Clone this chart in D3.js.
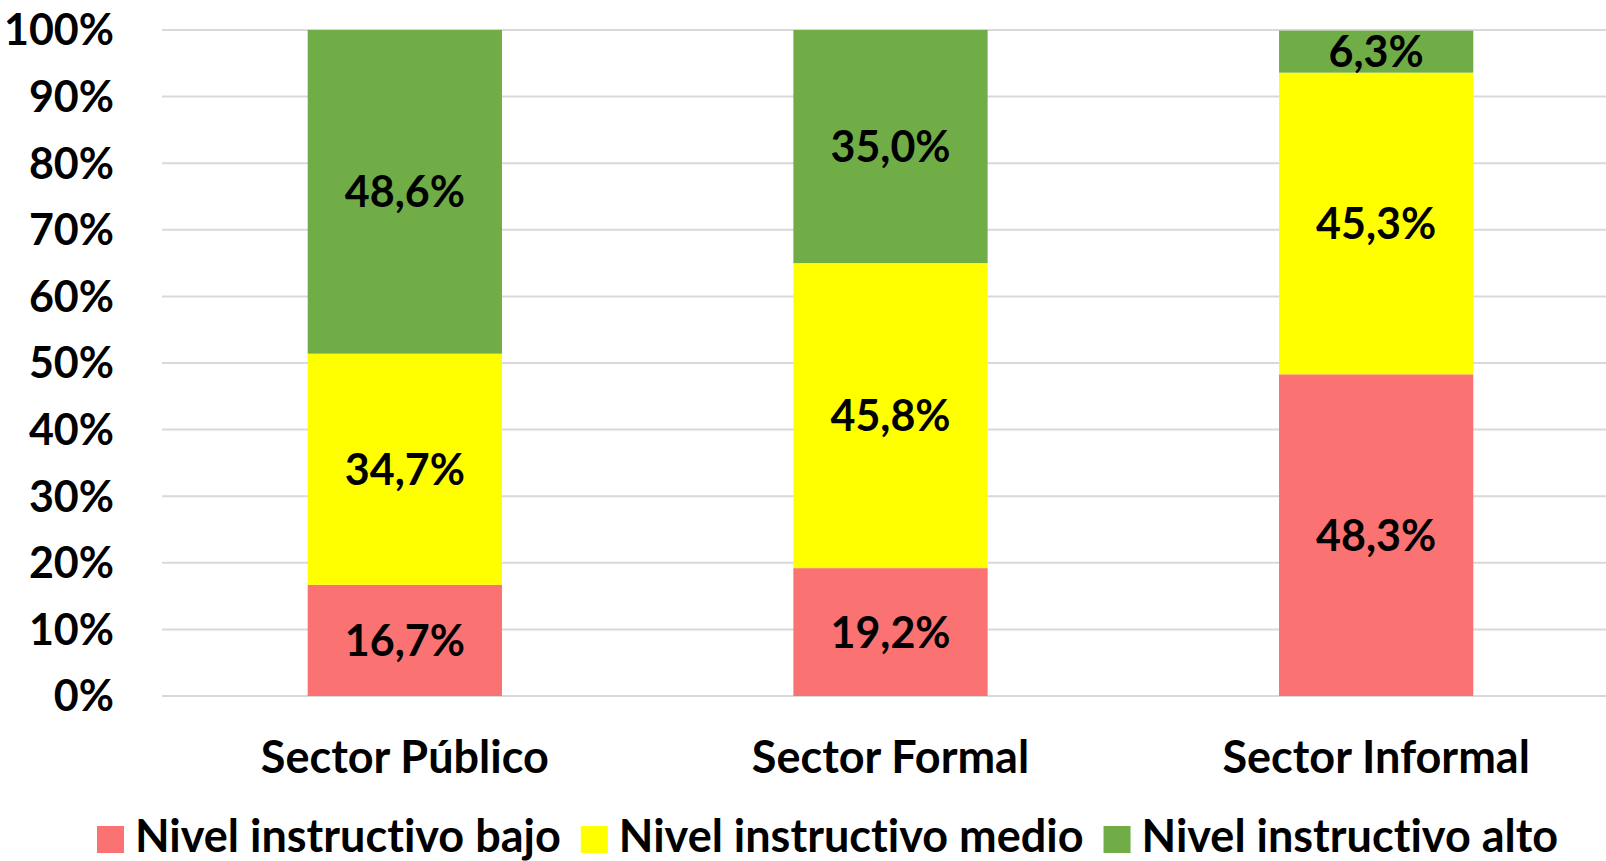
<!DOCTYPE html>
<html><head><meta charset="utf-8">
<script src="https://cdn.jsdelivr.net/npm/d3@7"></script>
<style>
html,body{margin:0;padding:0;background:#fff;overflow:hidden}
svg text{font-family:Lato,"Open Sans",sans-serif;font-weight:bold;fill:#000;font-variant-ligatures:none;font-feature-settings:"liga" 0}
</style></head>
<body><svg id="c" width="1606" height="861"></svg>
<script>
const categories = ["Sector Público", "Sector Formal", "Sector Informal"];
const seriesNames = ["Nivel instructivo bajo", "Nivel instructivo medio", "Nivel instructivo alto"];
const bajo  = [16.7, 19.2, 48.3];
const medio = [34.7, 45.8, 45.3];
const alto  = [48.6, 35.0, 6.3];
const yTicks = [0,10,20,30,40,50,60,70,80,90,100];
const colors = ["#FA7272", "#FFFF00", "#70AD47"];

(function(){
const svg = d3.select("#c");
const FS = 43, FSC = 45, FSL = 45;
const pL = 162, pR = 1619, pT = 30, pB = 696;

const x = d3.scaleBand().domain(categories).range([pL, pR]).paddingInner(0.6).paddingOuter(0.3);
const y = d3.scaleLinear().domain([0, 100]).range([pB, pT]);

svg.append("g").selectAll("line").data(yTicks).join("line")
  .attr("x1", pL).attr("x2", 1606)
  .attr("y1", d => y(d)).attr("y2", d => y(d))
  .attr("stroke", "#D9D9D9").attr("stroke-width", 2);

svg.append("g").selectAll("text").data(yTicks).join("text")
  .attr("x", 114).attr("y", d => y(d) + FS*0.36)
  .attr("text-anchor", "end").attr("font-size", FS)
  .text(d => d + "%");

const table = categories.map((c, i) => ({cat: c, s0: bajo[i], s1: medio[i], s2: alto[i]}));
const stack = d3.stack().keys(["s0","s1","s2"])(table);
const fmt = v => v.toFixed(1).replace(".", ",") + "%";

stack.forEach((layer, k) => {
  const g = svg.append("g");
  g.selectAll("rect").data(layer).join("rect")
    .attr("x", d => x(d.data.cat)).attr("width", x.bandwidth())
    .attr("y", d => y(d[1])).attr("height", d => y(d[0]) - y(d[1]))
    .attr("fill", colors[k]);
  g.selectAll("text").data(layer).join("text")
    .attr("x", d => x(d.data.cat) + x.bandwidth()/2)
    .attr("y", d => (y(d[0]) + y(d[1]))/2 + FS*0.36)
    .attr("text-anchor", "middle").attr("font-size", FS)
    .text(d => fmt(d[1] - d[0]));
});

svg.append("g").selectAll("text").data(categories).join("text")
  .attr("x", d => x(d) + x.bandwidth()/2).attr("y", 773)
  .attr("text-anchor", "middle").attr("font-size", FSC)
  .text(d => d);

const lg = svg.append("g");
let lx = 97;
seriesNames.forEach((n, i) => {
  lg.append("rect").attr("x", lx).attr("y", 826).attr("width", 27).attr("height", 27).attr("fill", colors[i]);
  const t = lg.append("text").attr("x", lx + 38).attr("y", 852).attr("font-size", FSL).text(n);
  lx += 38 + t.node().getComputedTextLength() + 20;
});
})();
</script></body></html>
